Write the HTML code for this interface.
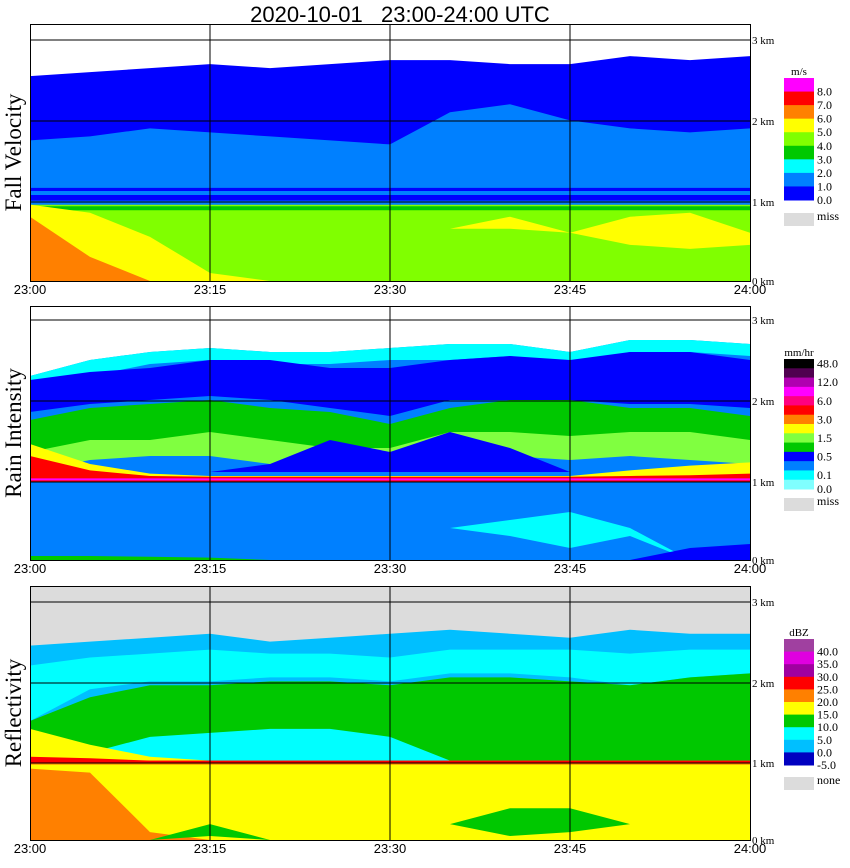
<!DOCTYPE html>
<html><head><meta charset="utf-8"><style>
body{margin:0;background:#fff;width:850px;height:868px;overflow:hidden}
svg{display:block}
.t{font-family:"Liberation Sans",sans-serif;font-size:13px}
.s{font-family:"Liberation Serif",serif}
</style></head><body>
<svg id="c" width="850" height="868" xmlns="http://www.w3.org/2000/svg">
<text x="400" y="22" text-anchor="middle" style="white-space:pre;font-family:'Liberation Sans',sans-serif;font-size:22px">2020-10-01   23:00-24:00 UTC</text>
</svg>
<script>
const times=[0,5,10,15,20,25,30,35,40,45,50,55,60];
const timeLabels=["23:00","23:15","23:30","23:45","24:00"];
const kmLabels=["0 km","1 km","2 km","3 km"];
const fvTop=[2.55,2.6,2.65,2.7,2.65,2.7,2.75,2.75,2.7,2.7,2.8,2.75,2.8];
const fvLbTop=[1.75,1.8,1.9,1.85,1.8,1.75,1.7,2.1,2.2,2.0,1.9,1.85,1.9];
const fvYellowTop=[0.95,0.85,0.55,0.1,0,0,0,0,0,0,0,0,0];
const fvOrangeTop=[0.8,0.3,0,0,0,0,0,0,0,0,0,0,0];
const fvYelRLo=[0,0,0,0,0,0,0,0.65,0.65,0.6,0.45,0.4,0.45];
const fvYelRHi=[0,0,0,0,0,0,0,0.65,0.8,0.6,0.8,0.85,0.6];
const riTop=[2.3,2.5,2.6,2.65,2.6,2.6,2.65,2.7,2.7,2.6,2.75,2.75,2.7];
const riCyanLo=[2.1,2.3,2.45,2.5,2.45,2.45,2.5,2.5,2.55,2.45,2.6,2.6,2.55];
const riBlueLo=[1.85,1.95,2.0,2.05,2.0,1.9,1.8,2.0,2.0,2.0,1.95,1.95,1.9];
const riBlueHi=[2.25,2.35,2.4,2.5,2.5,2.4,2.4,2.5,2.55,2.5,2.6,2.6,2.5];
const riGreenLo=[1.2,1.35,1.4,1.35,1.3,1.3,1.3,1.5,1.4,1.4,1.5,1.4,1.3];
const riGreenHi=[1.75,1.9,1.95,2.0,1.9,1.85,1.7,1.9,2.0,2.0,1.9,1.9,1.8];
const riLgLo=[1.1,1.25,1.3,1.3,1.2,1.2,1.2,1.3,1.3,1.25,1.3,1.25,1.2];
const riLgHi=[1.35,1.5,1.5,1.6,1.5,1.4,1.4,1.6,1.6,1.55,1.6,1.6,1.5];
const riBlue2Hi=[1.1,1.1,1.1,1.1,1.2,1.5,1.35,1.6,1.4,1.1,1.1,1.1,1.1];
const riOrangeHi=[1.45,1.2,1.08,1.05,1.05,1.05,1.05,1.05,1.05,1.05,1.12,1.18,1.22];
const riRedHi=[1.3,1.12,1.05,1.04,1.04,1.04,1.04,1.04,1.04,1.04,1.05,1.06,1.08];
const riCyanPLo=[0,0,0,0,0,0,0,0.4,0.3,0.15,0.3,0,0];
const riCyanPHi=[0,0,0,0,0,0,0,0.4,0.5,0.6,0.4,0,0];
const riBotBlueHi=[0,0,0,0,0,0,0,0,0,0,0,0.15,0.2];
const reTop=[2.45,2.5,2.55,2.6,2.5,2.55,2.6,2.65,2.6,2.55,2.65,2.6,2.6];
const reCyanLo=[1.5,1.9,2.0,2.0,2.05,2.05,2.0,2.1,2.1,2.05,1.95,2.05,2.1];
const reCyanHi=[2.2,2.3,2.35,2.4,2.35,2.35,2.3,2.4,2.4,2.4,2.35,2.4,2.4];
const reGreenHi=[1.5,1.8,1.95,1.95,2.0,2.0,1.95,2.05,2.05,2.0,1.95,2.05,2.1];
const reCyan2Hi=[1.0,1.1,1.3,1.35,1.4,1.4,1.3,1.0,1.0,1.0,1.0,1.0,1.0];
const reYellowHi=[1.4,1.2,1.05,1.0,1.0,1.0,1.0,1.0,1.0,1.0,1.0,1.0,1.0];
const reOrangeHi=[0.9,0.85,0.1,0,0,0,0,0,0,0,0,0,0];
const reRedHi=[1.05,1.03,1.0,1.0,1.0,1.0,1.0,1.0,1.0,1.0,1.0,1.0,1.0];
const reGreenPLo=[0,0,0,0.05,0,0,0,0.2,0.05,0.1,0.2,0,0];
const reGreenPHi=[0,0,0,0.2,0,0,0,0.2,0.4,0.4,0.2,0,0];
const fvLegend=["8.0","7.0","6.0","5.0","4.0","3.0","2.0","1.0","0.0"];
const fvColors=["#ff00ff","#ff0000","#ff8000","#ffff00","#80ff00","#00c800","#00ffff","#0080ff","#0000ff"];
const riLegend=["48.0","12.0","6.0","3.0","1.5","0.5","0.1"];
const riColors=["#000000","#500050","#b000b0","#ff00ff","#ff0080","#ff0000","#ff8000","#ffff00","#80ff40","#00c800","#0000ff","#0080ff","#00ffff","#80ffff"];
const reLegend=["40.0","35.0","30.0","25.0","20.0","15.0","10.0","5.0","0.0","-5.0"];
const reColors=["#a040a0","#e000e0","#a000a0","#ff0000","#ff8000","#ffff00","#00c800","#00ffff","#00bfff","#0000c0"];

const svg=document.getElementById('c');
const NS="http://www.w3.org/2000/svg";
const X0=30,X1=750;
function xs(t){return X0+(X1-X0)*t/60;}
function mk(tag,at,parent){const e=document.createElementNS(NS,tag);for(const k in at)e.setAttribute(k,at[k]);(parent||svg).appendChild(e);return e;}
const panels=[
 {name:'fall-velocity',title:'Fall Velocity',top:24,bot:281,y:[281,202,121,40]},
 {name:'rain-intensity',title:'Rain Intensity',top:306,bot:560,y:[560,482,401,320]},
 {name:'reflectivity',title:'Reflectivity',top:586,bot:840,y:[840,763,683,602]}
];
function ykm(p,h){const k=(p.y[3]-p.y[0])/3;return Math.max(p.top,p.y[0]+k*h);}
function band(p,g,lo,hi,color,name){
 let pts=[];
 for(let i=0;i<times.length;i++){const l=typeof lo==='number'?lo:lo[i];pts.push(xs(times[i])+','+ykm(p,Math.max(l,hi[i])));}
 for(let i=times.length-1;i>=0;i--){const l=typeof lo==='number'?lo:lo[i];pts.push(xs(times[i])+','+ykm(p,l));}
 const e=mk('polygon',{points:pts.join(' '),fill:color},g);
 
 
}
function flat(p,g,lo,hi,color,name){band(p,g,lo,times.map(()=>hi),color,name);}
function legend(cy0,cy1,colors,labels,labelPos,unit,miss,missY,name,extra){
 const g=mk('g',{});
 
 
 const h=(cy1-cy0)/colors.length;
 mk('text',{x:799,y:cy0-3,'text-anchor':'middle',class:'s','font-size':11},g).textContent=unit;
 colors.forEach((c,i)=>{const r=mk('rect',{x:784,y:cy0+i*h,width:30,height:h+0.5,fill:c},g);
  
  });
 labels.forEach((l,i)=>{const t=mk('text',{x:817,y:cy0+labelPos(i)*h,'dominant-baseline':'central',class:'s','font-size':12},g);t.textContent=l;});
 if(extra){mk('text',{x:817,y:cy1,'dominant-baseline':'central',class:'s','font-size':12},g).textContent=extra;}
 mk('rect',{x:784,y:missY,width:30,height:13,fill:'#dcdcdc'},g);
 mk('text',{x:817,y:missY+3,'dominant-baseline':'central',class:'s','font-size':12},g).textContent=miss;
}
panels.forEach((p,pi)=>{
 const g=mk('g',{});
 
 
 mk('rect',{x:X0,y:p.top,width:X1-X0,height:p.bot-p.top,fill:pi==2?'#dcdcdc':'#fff'},g);
 if(pi==0){
  band(p,g,0,fvTop,'#0000ff','blue-layer');
  band(p,g,1.07,fvLbTop,'#0080ff','light-blue-layer');
  flat(p,g,1.12,1.16,'#0000ff','blue-stripe');
  flat(p,g,0,0.95,'#80ff00','rain-layer');
  flat(p,g,0.88,0.93,'#00c800','green-stripe');
  flat(p,g,0.95,1.0,'#0080ff','melting-stripe');
  band(p,g,0,fvYellowTop,'#ffff00','yellow-left');
  band(p,g,0,fvOrangeTop,'#ff8000','orange-left');
  band(p,g,fvYelRLo,fvYelRHi,'#ffff00','yellow-right');
 } else if(pi==1){
  band(p,g,0,riTop,'#0080ff','light-blue-layer');
  band(p,g,riCyanLo,riTop,'#00ffff','cyan-top');
  band(p,g,riBlueLo,riBlueHi,'#0000ff','blue-band');
  band(p,g,riGreenLo,riGreenHi,'#00c800','green-band');
  band(p,g,riLgLo,riLgHi,'#80ff40','light-green-band');
  band(p,g,1.1,riBlue2Hi,'#0000ff','blue-patch');
  band(p,g,0.97,riOrangeHi,'#ffff00','yellow-wedge');
  band(p,g,0.98,riRedHi,'#ff0000','red-band');
  flat(p,g,0.995,1.02,'#ff00ff','magenta-band');
  band(p,g,riCyanPLo,riCyanPHi,'#00ffff','cyan-patch');
  band(p,g,0,riBotBlueHi,'#0000ff','blue-bottom');
  band(p,g,0,[0.05,0.05,0.04,0.03,0,0,0,0,0,0,0,0,0],'#00c800','green-bottom');
 } else {
  band(p,g,0,reTop,'#00bfff','sky-layer');
  band(p,g,reCyanLo,reCyanHi,'#00ffff','cyan-band');
  band(p,g,1.0,reGreenHi,'#00c800','green-layer');
  band(p,g,1.0,reCyan2Hi,'#00ffff','cyan-lower');
  band(p,g,1.0,reYellowHi,'#ffff00','yellow-upper');
  flat(p,g,0,0.97,'#ffff00','yellow-rain');
  flat(p,g,0.95,1.0,'#ff8000','orange-band');
  band(p,g,0.97,reRedHi,'#ff0000','red-band');
  band(p,g,0,reOrangeHi,'#ff8000','orange-left');
  band(p,g,reGreenPLo,reGreenPHi,'#00c800','green-patch');
 }
 [1,2,3].forEach(k=>{const l=mk('line',{x1:X0,x2:X1,y1:p.y[k],y2:p.y[k],stroke:'#000','stroke-width':1},g);
  });
 [15,30,45].forEach(t=>{const l=mk('line',{x1:xs(t),x2:xs(t),y1:p.top,y2:p.bot,stroke:'#000','stroke-width':1},g);
  });
 mk('rect',{x:X0+0.5,y:p.top+0.5,width:X1-X0,height:p.bot-p.top,fill:'none',stroke:'#000'},g);
 kmLabels.forEach((s,k)=>{const t=mk('text',{x:752,y:p.y[k]+4,class:'s','font-size':11},g);t.textContent=s;
  });
 timeLabels.forEach((s,k)=>{const t=mk('text',{x:xs(k*15),y:p.bot+13,'text-anchor':'middle',class:'t'},g);t.textContent=s;
  });
 const tt=mk('text',{x:0,y:0,'text-anchor':'middle',class:'s','font-size':23,transform:`translate(21,${(p.top+p.bot)/2}) rotate(-90)`},g);
 tt.textContent=p.title;
 
 
});
legend(78,200,fvColors,fvLegend,i=>i+1,'m/s','miss',213,'fall-velocity-legend',null);
legend(359,489,riColors,riLegend,i=>2*i+0.5,'mm/hr','miss',498,'rain-legend','0.0');
legend(639,765,reColors,reLegend,i=>i+1,'dBZ','none',777,'reflectivity-legend',null);
</script>
</body></html>
